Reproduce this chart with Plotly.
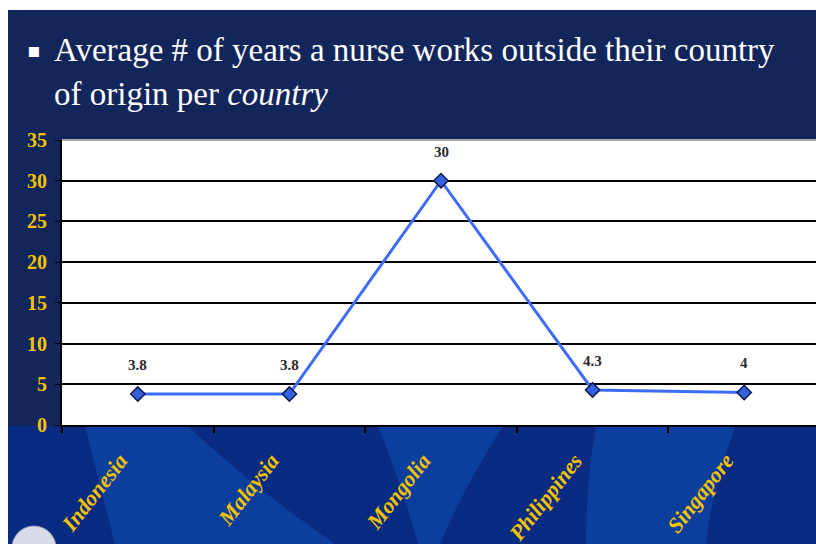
import plotly.graph_objects as go

countries = ["Indonesia", "Malaysia", "Mongolia", "Philippines", "Singapore"]
years = [3.8, 3.8, 30, 4.3, 4]
y_ticks = [0, 5, 10, 15, 20, 25, 30, 35]

W, H = 816, 544
L, R, T, B = 62, 0, 140, 119
PW, PH = W - L - R, H - T - B


def px(x):
    # screen x pixel -> paper coordinate
    return (x - L) / PW


def py(y):
    # screen y pixel -> paper coordinate
    return (H - B - y) / PH


NAVY = "#13265c"
GOLD = "#f4c300"
BAND_DARK = "#0a2b82"
BAND_LIGHT = "#0c3e9e"

fig = go.Figure()
fig.add_trace(go.Scatter(
    x=countries,
    y=years,
    mode="lines+markers",
    line=dict(color="#3f6cf5", width=3),
    marker=dict(symbol="diamond", size=11, color="#3560e0", line=dict(color="#0d1a4a", width=1.5)),
    hoverinfo="x+y",
    showlegend=False,
))

annotations = [
    dict(x=c, y=v, text=f"{v:g}", showarrow=False, yshift=29, xref="x", yref="y",
         font=dict(family="Liberation Serif", size=15, color="#2a2a2a", weight="bold"))
    for c, v in zip(countries, years)
]
annotations += [
    dict(x=px(25), y=py(50), xref="paper", yref="paper", text="▪", showarrow=False,
         font=dict(family="DejaVu Sans", size=20, color="white"), xanchor="left", yanchor="middle"),
    dict(x=px(52), y=py(50), xref="paper", yref="paper", showarrow=False,
         text="Average # of years a nurse works outside their country",
         font=dict(family="Liberation Serif", size=33, color="white"), xanchor="left", yanchor="middle"),
    dict(x=px(52), y=py(94), xref="paper", yref="paper", showarrow=False,
         text="of origin per <i>country</i>",
         font=dict(family="Liberation Serif", size=33, color="white"), xanchor="left", yanchor="middle"),
]


def band(top0, top1, bot0, bot1, c0, c1):
    return dict(type="path", xref="paper", yref="paper", layer="below", line=dict(width=0),
                fillcolor=BAND_LIGHT,
                path=f"M {px(top0)},{py(426)} Q {px(c0)},{py(485)} {px(bot0)},{py(H)} "
                     f"L {px(bot1)},{py(H)} Q {px(c1)},{py(485)} {px(top1)},{py(426)} Z")


shapes = [
    # white frame strips of the slide
    dict(type="rect", xref="paper", yref="paper", x0=px(0), x1=px(W), y0=py(0), y1=py(10),
         fillcolor="white", line=dict(width=0), layer="below"),
    dict(type="rect", xref="paper", yref="paper", x0=px(0), x1=px(8), y0=py(0), y1=py(H),
         fillcolor="white", line=dict(width=0), layer="below"),
    # royal blue lower band with lighter swooshes
    dict(type="rect", xref="paper", yref="paper", x0=px(8), x1=px(W), y0=py(426), y1=py(H),
         fillcolor=BAND_DARK, line=dict(width=0), layer="below"),
    band(85, 188, 115, 335, 100, 250),
    band(378, 503, 418, 440, 402, 465),
    band(596, 736, 586, 706, 586, 712),
    dict(type="circle", xref="paper", yref="paper", layer="below",
         x0=px(12), x1=px(56), y0=py(526), y1=py(570),
         fillcolor="#d8dce8", line=dict(color="#9aa3bd", width=1)),
    # light grey top border of the plot area
    dict(type="line", xref="paper", yref="paper", x0=0, x1=1, y0=1, y1=1,
         line=dict(color="#a9a9a9", width=2)),
]

fig.update_layout(
    width=W,
    height=H,
    margin=dict(l=L, r=R, t=T, b=B),
    paper_bgcolor=NAVY,
    plot_bgcolor="white",
    annotations=annotations,
    shapes=shapes,
    xaxis=dict(
        type="category",
        range=[-0.5, -0.5 + PW / 151.6],
        automargin=False,
        showgrid=False,
        showline=True,
        linecolor="black",
        linewidth=2,
        ticks="outside",
        tickson="boundaries",
        ticklen=6,
        tickcolor="black",
        tickwidth=1.5,
        tickangle=-52,
        ticklabelstandoff=12,
        ticklabelshift=-18,
        tickfont=dict(family="Liberation Serif", size=22, color=GOLD, weight="bold", style="italic"),
        fixedrange=True,
    ),
    yaxis=dict(
        range=[0, 35],
        tickvals=y_ticks,
        automargin=False,
        showgrid=True,
        gridcolor="black",
        gridwidth=1.5,
        zeroline=True,
        zerolinecolor="black",
        zerolinewidth=2,
        showline=True,
        linecolor="black",
        linewidth=2,
        ticks="outside",
        ticklen=5,
        tickcolor="black",
        ticklabelstandoff=4,
        tickfont=dict(family="Liberation Serif", size=20, color=GOLD, weight="bold"),
        fixedrange=True,
    ),
)

fig.write_html("out.html", config=dict(displayModeBar=False),
               post_script="document.body.style.margin='0';")
